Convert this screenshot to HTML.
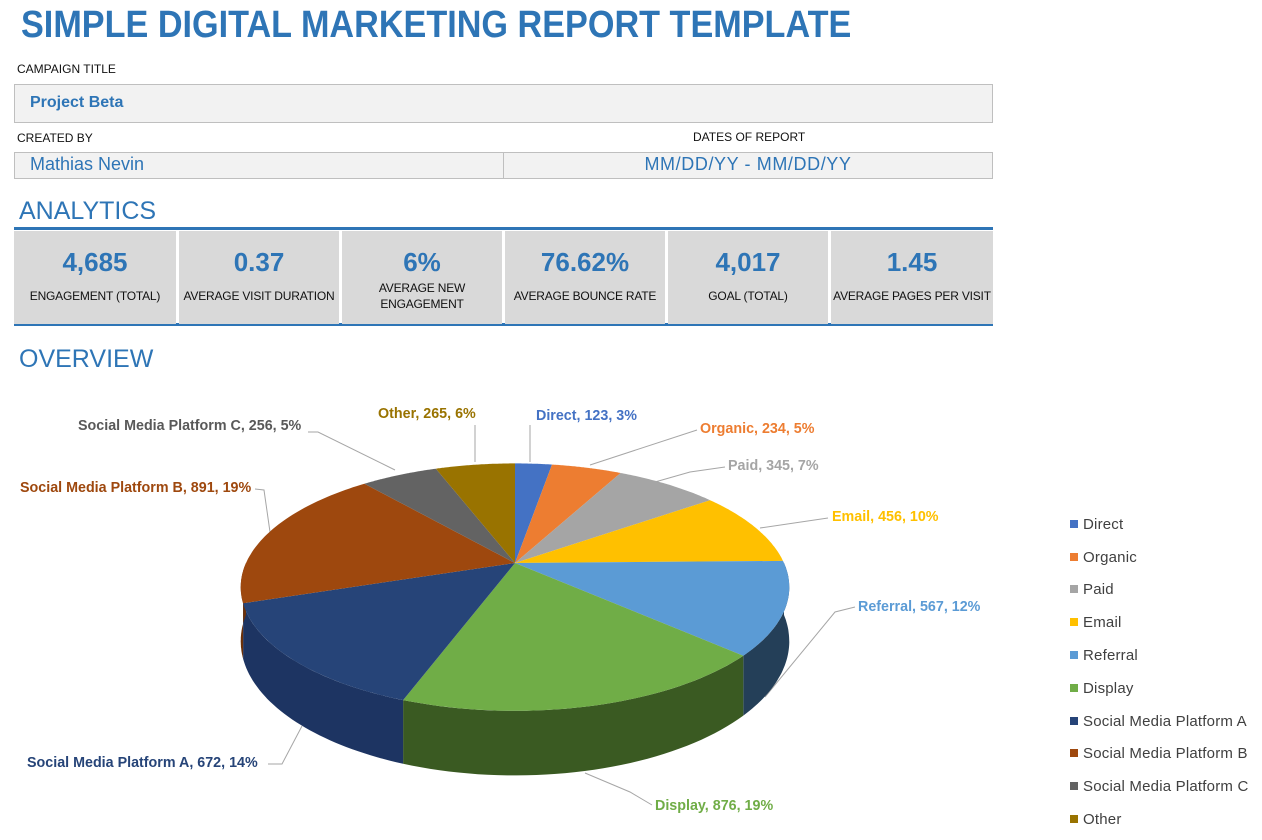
<!DOCTYPE html>
<html><head><meta charset="utf-8"><style>
body{margin:0;width:1262px;height:840px;background:#fff;font-family:"Liberation Sans",sans-serif;position:relative;overflow:hidden}
.a{position:absolute;white-space:nowrap}
.blue{color:#2E75B6}
.box{position:absolute;background:#f2f2f2;border:1px solid #bfbfbf;box-sizing:border-box}
.kpi{position:absolute;top:231px;height:93px;background:#d9d9d9;text-align:center}
.kpi .v{position:absolute;top:16px;left:0;right:0;font-size:26px;font-weight:bold;color:#2E75B6}
.kpi .l{position:absolute;top:57px;left:0;right:0;font-size:12px;color:#111;line-height:16px;white-space:nowrap;letter-spacing:-0.2px}
.kpi .l2{top:49px}
.lg{position:absolute;left:1070px;font-size:15px;color:#404040;letter-spacing:0.2px}
.lg i{display:inline-block;width:8px;height:8px;margin-right:5px;vertical-align:1px}
</style></head><body>
<div class="a blue" style="left:21px;top:4px;font-size:38px;font-weight:bold;transform:scaleX(0.9);transform-origin:0 0">SIMPLE DIGITAL MARKETING REPORT TEMPLATE</div>
<div class="a" style="left:17px;top:62px;font-size:12px;color:#111">CAMPAIGN TITLE</div>
<div class="box" style="left:14px;top:84px;width:979px;height:39px"></div>
<div class="a blue" style="left:30px;top:94px;font-size:16px;font-weight:bold">Project Beta</div>
<div class="a" style="left:17px;top:131px;font-size:12px;color:#111">CREATED BY</div>
<div class="a" style="left:693px;top:130px;font-size:12px;color:#111">DATES OF REPORT</div>
<div class="box" style="left:14px;top:152px;width:490px;height:27px"></div>
<div class="box" style="left:503px;top:152px;width:490px;height:27px"></div>
<div class="a blue" style="left:30px;top:154px;font-size:18px">Mathias Nevin</div>
<div class="a blue" style="left:503px;width:490px;text-align:center;top:154px;font-size:18px;letter-spacing:0.6px">MM/DD/YY - MM/DD/YY</div>
<div class="a blue" style="left:19px;top:197px;font-size:25px">ANALYTICS</div>
<div style="position:absolute;left:14px;top:227px;width:979px;height:3px;background:#2E75B6"></div>
<div style="position:absolute;left:14px;top:323px;width:979px;height:3px;background:#2E75B6"></div>
<div class="kpi" style="left:14px;width:162px"><div class="v">4,685</div><div class="l">ENGAGEMENT (TOTAL)</div></div>
<div class="kpi" style="left:179px;width:160px"><div class="v">0.37</div><div class="l">AVERAGE VISIT DURATION</div></div>
<div class="kpi" style="left:342px;width:160px"><div class="v">6%</div><div class="l l2">AVERAGE NEW<br>ENGAGEMENT</div></div>
<div class="kpi" style="left:505px;width:160px"><div class="v">76.62%</div><div class="l">AVERAGE BOUNCE RATE</div></div>
<div class="kpi" style="left:668px;width:160px"><div class="v">4,017</div><div class="l">GOAL (TOTAL)</div></div>
<div class="kpi" style="left:831px;width:162px"><div class="v">1.45</div><div class="l">AVERAGE PAGES PER VISIT</div></div>
<div class="a blue" style="left:19px;top:345px;font-size:25px">OVERVIEW</div>

<svg id="pie" width="1262" height="840" style="position:absolute;left:0;top:0">
<g stroke="#a6a6a6" fill="none" stroke-width="1">
<polyline points="475,425 475,462"/><polyline points="530,425 530,462"/>
<polyline points="697,430 590,465"/><polyline points="725,467 690,472 655,482"/>
<polyline points="828,518 760,528"/><polyline points="855,607 835,612 765,697"/>
<polyline points="652,805 630,792 585,773"/><polyline points="268,764 282,764 302,726"/>
<polyline points="255,489 264,490 270,532"/><polyline points="308,432 318,432 395,470"/>
</g>
<g id="slices"></g>
<g font-size="14.3" font-weight="bold" font-family="Liberation Sans,sans-serif">
<text x="378" y="418" fill="#997300">Other, 265, 6%</text>
<text x="536" y="420" fill="#4472C4">Direct, 123, 3%</text>
<text x="700" y="433" fill="#ED7D31">Organic, 234, 5%</text>
<text x="728" y="470" fill="#A5A5A5">Paid, 345, 7%</text>
<text x="832" y="521" fill="#FFC000">Email, 456, 10%</text>
<text x="858" y="611" fill="#5B9BD5">Referral, 567, 12%</text>
<text x="655" y="810" fill="#70AD47">Display, 876, 19%</text>
<text x="27" y="767" fill="#264478">Social Media Platform A, 672, 14%</text>
<text x="20" y="492" fill="#9E480E">Social Media Platform B, 891, 19%</text>
<text x="78" y="430" fill="#595959">Social Media Platform C, 256, 5%</text>
</g>
</svg>
<script>
(function(){
var vals=[123,234,345,456,567,876,672,891,256,265];
var cols=["#4472C4","#ED7D31","#A5A5A5","#FFC000","#5B9BD5","#70AD47","#264478","#9E480E","#636363","#997300"];
var side=["#2c4c85","#9c521f","#6e6e6e","#a87f00","#243f58","#3a5a22","#1d3462","#6a300a","#424242","#665000"];
var tot=0;vals.forEach(function(v){tot+=v});
var cx=515,cy=563,rx=269,a=119,k=0.195,D=52;
function P(t,d){var xw=Math.sin(t),yw=-Math.cos(t),s=1/(1-k*yw);return [cx+rx*xw*s,cy+a*yw/(1-k*yw)+(d?D*s:0)];}
var g=document.getElementById('slices'),out="",c=0,ang=[];
vals.forEach(function(v){var t1=c/tot*2*Math.PI;c+=v;ang.push([t1,c/tot*2*Math.PI]);});
ang.forEach(function(r,i){
 var s=Math.max(r[0],Math.PI/2),e=Math.min(r[1],3*Math.PI/2);
 if(e>s){var top=[],bot=[];for(var j=0;j<=40;j++){var t=s+(e-s)*j/40;top.push(P(t,0));bot.push(P(t,1));}
  var pts=top.concat(bot.reverse()).map(function(p){return p[0].toFixed(1)+","+p[1].toFixed(1)}).join(" ");
  out+='<polygon points="'+pts+'" fill="'+side[i]+'"/>';}
});
ang.forEach(function(r,i){
 var pts=[[cx,cy]];for(var j=0;j<=60;j++){pts.push(P(r[0]+(r[1]-r[0])*j/60,0));}
 out+='<polygon points="'+pts.map(function(p){return p[0].toFixed(1)+","+p[1].toFixed(1)}).join(" ")+'" fill="'+cols[i]+'"/>';
});
g.innerHTML=out;
})();
</script>
<div class="lg" style="top:516px"><i style="background:#4472C4"></i>Direct</div>
<div class="lg" style="top:549px"><i style="background:#ED7D31"></i>Organic</div>
<div class="lg" style="top:581px"><i style="background:#A5A5A5"></i>Paid</div>
<div class="lg" style="top:614px"><i style="background:#FFC000"></i>Email</div>
<div class="lg" style="top:647px"><i style="background:#5B9BD5"></i>Referral</div>
<div class="lg" style="top:680px"><i style="background:#70AD47"></i>Display</div>
<div class="lg" style="top:713px"><i style="background:#264478"></i>Social Media Platform A</div>
<div class="lg" style="top:745px"><i style="background:#9E480E"></i>Social Media Platform B</div>
<div class="lg" style="top:778px"><i style="background:#636363"></i>Social Media Platform C</div>
<div class="lg" style="top:811px"><i style="background:#997300"></i>Other</div>
</body></html>
